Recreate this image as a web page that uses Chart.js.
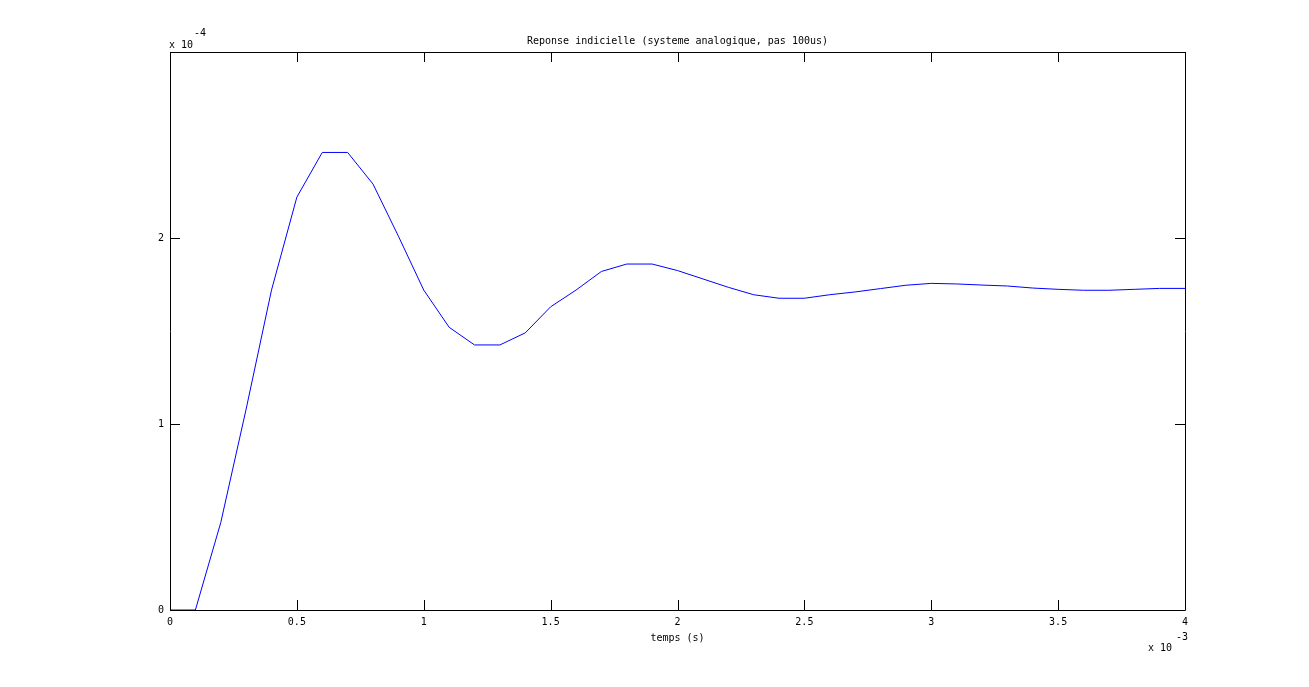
<!DOCTYPE html>
<html>
<head>
<meta charset="utf-8">
<script src="https://cdn.jsdelivr.net/npm/chart.js@4"></script>
<style>
  body { margin: 0; background: #fff; }
  canvas { display: block; }
</style>
</head>
<body>
<canvas id="c" width="1309" height="687"></canvas>
<script>
// time in units of 1e-3 s, response in units of 1e-4
const timeMs = [0, 0.1, 0.2, 0.3, 0.4, 0.5, 0.6, 0.7, 0.8, 0.9,
  1.0, 1.1, 1.2, 1.3, 1.4, 1.5, 1.6, 1.7, 1.8, 1.9,
  2.0, 2.1, 2.2, 2.3, 2.4, 2.5, 2.6, 2.7, 2.8, 2.9,
  3.0, 3.1, 3.2, 3.3, 3.4, 3.5, 3.6, 3.7, 3.8, 3.9, 4.0];
const response = [0, 0, 0.47, 1.08, 1.72, 2.22, 2.46, 2.46, 2.29, 2.01,
  1.72, 1.52, 1.425, 1.425, 1.49, 1.63, 1.72, 1.82, 1.86, 1.86,
  1.825, 1.78, 1.735, 1.695, 1.676, 1.676, 1.695, 1.71, 1.728, 1.746,
  1.756, 1.753, 1.747, 1.742, 1.731, 1.724, 1.719, 1.719, 1.724, 1.729, 1.729];
const xTicks = [0, 0.5, 1, 1.5, 2, 2.5, 3, 3.5, 4];
const yTicks = [0, 1, 2];

const titleText = "Reponse indicielle (systeme analogique, pas 100us)";
const xLabel = "temps (s)";
const FONT = "10px 'DejaVu Sans Mono'";

// box, inward ticks on all sides, title and exponents
const matlabFrame = {
  id: "matlabFrame",
  afterDraw(chart) {
    const ctx = chart.ctx;
    const a = chart.chartArea;
    const xs = chart.scales.x, ys = chart.scales.y;
    ctx.save();
    ctx.strokeStyle = "#000";
    ctx.lineWidth = 1;
    ctx.beginPath();
    ctx.rect(Math.round(a.left) + 0.5, Math.round(a.top) + 0.5,
      Math.round(a.right - a.left), Math.round(a.bottom - a.top));
    const len = 10;
    xs.ticks.forEach(t => {
      const px = Math.round(xs.getPixelForValue(t.value)) + 0.5;
      ctx.moveTo(px, a.bottom); ctx.lineTo(px, a.bottom - len);
      ctx.moveTo(px, a.top); ctx.lineTo(px, a.top + len);
    });
    ys.ticks.forEach(t => {
      const py = Math.round(ys.getPixelForValue(t.value)) + 0.5;
      ctx.moveTo(a.left, py); ctx.lineTo(a.left + len, py);
      ctx.moveTo(a.right, py); ctx.lineTo(a.right - len, py);
    });
    ctx.stroke();

    ctx.fillStyle = "#000";
    ctx.font = FONT;
    ctx.textBaseline = "middle";
    ctx.textAlign = "center";
    ctx.fillText(titleText, (a.left + a.right) / 2, 41);
    ctx.fillText(xLabel, (a.left + a.right) / 2, 638);
    ctx.textAlign = "left";
    ctx.fillText("x 10", 169, 45);
    ctx.fillText("-4", 194, 33);
    ctx.fillText("x 10", 1148, 648);
    ctx.fillText("-3", 1176, 637);
    ctx.restore();
  }
};

new Chart(document.getElementById("c"), {
  type: "line",
  data: {
    datasets: [{
      data: timeMs.map((t, i) => ({ x: t, y: response[i] })),
      borderColor: "#0000ff",
      borderWidth: 1,
      pointRadius: 0,
      tension: 0,
      fill: false
    }]
  },
  options: {
    responsive: false,
    animation: false,
    devicePixelRatio: 1,
    layout: { padding: { left: 0, right: 124, top: 52, bottom: 0 } },
    plugins: { legend: { display: false }, tooltip: { enabled: false } },
    scales: {
      x: {
        type: "linear",
        min: 0, max: 4,
        afterBuildTicks: s => { s.ticks = xTicks.map(v => ({ value: v })); },
        afterFit: s => { s.height = 77; },
        grid: { display: false, drawTicks: false },
        border: { display: false },
        ticks: {
          color: "#000",
          font: { family: "DejaVu Sans Mono", size: 10 },
          padding: 6,
          maxRotation: 0,
          autoSkip: false,
          callback: v => String(v)
        }
      },
      y: {
        type: "linear",
        min: 0, max: 3,
        afterBuildTicks: s => { s.ticks = yTicks.map(v => ({ value: v })); },
        afterFit: s => { s.width = 170; },
        grid: { display: false, drawTicks: false },
        border: { display: false },
        ticks: {
          color: "#000",
          font: { family: "DejaVu Sans Mono", size: 10 },
          padding: 6,
          callback: v => String(v)
        }
      }
    }
  },
  plugins: [matlabFrame]
});
</script>
</body>
</html>
